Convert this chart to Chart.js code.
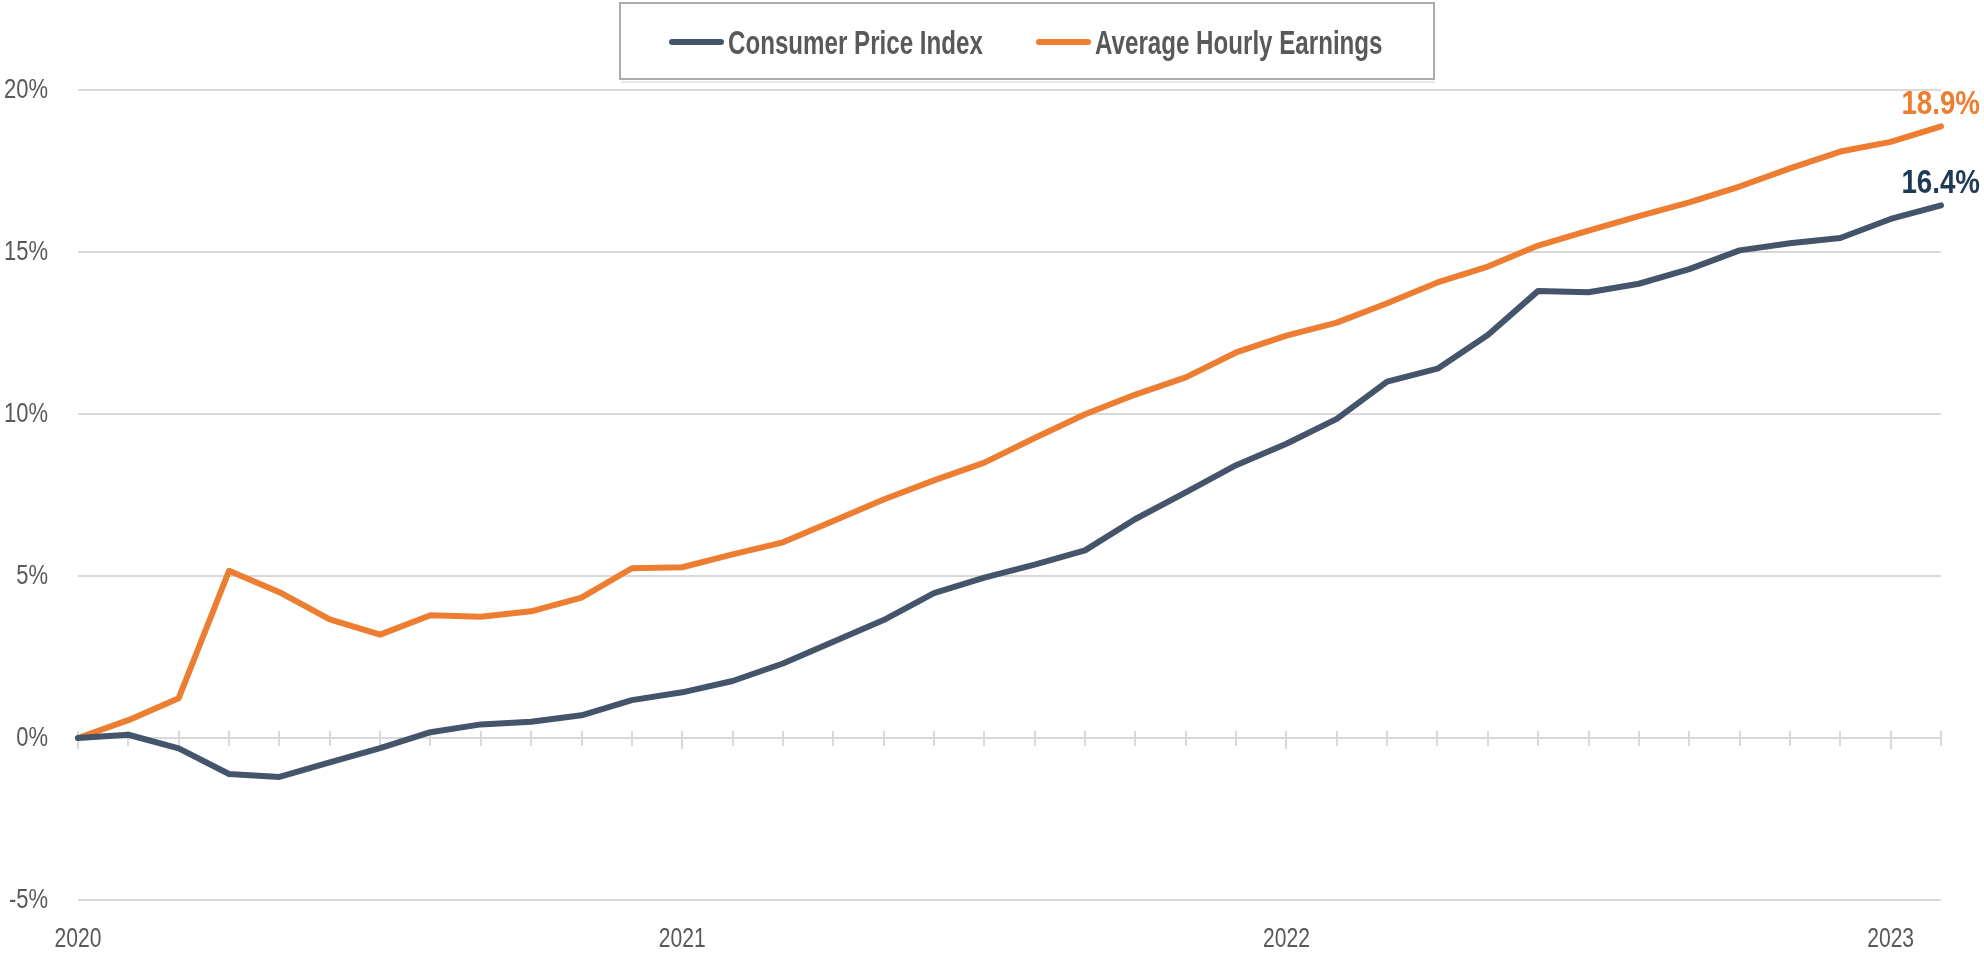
<!DOCTYPE html>
<html>
<head>
<meta charset="utf-8">
<script src="https://cdn.jsdelivr.net/npm/chart.js@4"></script>
<style>
  html, body { margin: 0; padding: 0; background: #fff; }
</style>
</head>
<body>
<canvas id="chart" width="1984" height="954"></canvas>
<script>
const months = [
  'Jan 2020', 'Feb 2020', 'Mar 2020', 'Apr 2020', 'May 2020', 'Jun 2020',
  'Jul 2020', 'Aug 2020', 'Sep 2020', 'Oct 2020', 'Nov 2020', 'Dec 2020',
  'Jan 2021', 'Feb 2021', 'Mar 2021', 'Apr 2021', 'May 2021', 'Jun 2021',
  'Jul 2021', 'Aug 2021', 'Sep 2021', 'Oct 2021', 'Nov 2021', 'Dec 2021',
  'Jan 2022', 'Feb 2022', 'Mar 2022', 'Apr 2022', 'May 2022', 'Jun 2022',
  'Jul 2022', 'Aug 2022', 'Sep 2022', 'Oct 2022', 'Nov 2022', 'Dec 2022',
  'Jan 2023', 'Feb 2023'
];

const cpi = [0, 0.1, -0.32, -1.11, -1.2, -0.75, -0.31, 0.18, 0.42, 0.5, 0.7, 1.17,
  1.41, 1.76, 2.3, 2.97, 3.64, 4.47, 4.95, 5.35, 5.79, 6.76, 7.58, 8.42,
  9.08, 9.85, 11.0, 11.4, 12.44, 13.8, 13.76, 14.02, 14.47, 15.05, 15.27, 15.43,
  16.02, 16.44];

const earnings = [0, 0.55, 1.23, 5.16, 4.5, 3.66, 3.19, 3.79, 3.74, 3.91, 4.33, 5.24,
  5.27, 5.67, 6.04, 6.7, 7.36, 7.95, 8.5, 9.26, 9.99, 10.6, 11.13, 11.9,
  12.42, 12.82, 13.42, 14.06, 14.55, 15.2, 15.66, 16.11, 16.53, 17.02, 17.58, 18.1,
  18.4, 18.88];

const seriesNames = ['Consumer Price Index', 'Average Hourly Earnings'];
const endLabels = ['16.4%', '18.9%'];
const yTicks = [-5, 0, 5, 10, 15, 20];

const lineColors = ['#44546a', '#ed7d31'];
const labelColors = ['#1f3a55', '#ed7d31'];
const gridColor = '#d9d9d9';
const textColor = '#595959';
const fontFamily = '"Liberation Sans", Arial, sans-serif';

// no condensed face is installed, so squeeze a regular one sideways
function squeezedText(ctx, text, x, y, align, sx) {
  ctx.save();
  ctx.translate(x, y);
  ctx.scale(sx, 1);
  ctx.textAlign = align;
  ctx.fillText(text, 0, 0);
  ctx.restore();
}

// little month ticks crossing the zero line, longer at January
const zeroTicks = {
  id: 'zeroTicks',
  beforeDatasetsDraw(chart) {
    const { ctx, scales: { x, y } } = chart;
    const y0 = y.getPixelForValue(0);
    ctx.save();
    ctx.strokeStyle = gridColor;
    ctx.lineWidth = 2;
    months.forEach((m, i) => {
      const px = Math.round(x.getPixelForValue(i));
      const down = i % 12 === 0 ? 11 : 8;
      ctx.beginPath();
      ctx.moveTo(px, y0 - 7);
      ctx.lineTo(px, y0 + down);
      ctx.stroke();
    });
    ctx.restore();
  }
};

const axisText = {
  id: 'axisText',
  afterDraw(chart) {
    const { ctx, chartArea, scales: { x, y } } = chart;
    ctx.save();
    ctx.fillStyle = textColor;

    ctx.font = '28px ' + fontFamily;
    ctx.textBaseline = 'middle';
    y.ticks.forEach(t => {
      squeezedText(ctx, t.value + '%', chartArea.left - 30, y.getPixelForValue(t.value), 'right', 0.785);
    });

    ctx.font = '27px ' + fontFamily;
    ctx.textBaseline = 'alphabetic';
    months.forEach((m, i) => {
      if (i % 12 !== 0) return;
      squeezedText(ctx, m.slice(4), x.getPixelForValue(i), 947, 'center', 0.78);
    });

    // legend box
    ctx.strokeStyle = '#e8e8e8';
    ctx.lineWidth = 2;
    ctx.beginPath();
    ctx.moveTo(621, 82);
    ctx.lineTo(1435, 82);
    ctx.stroke();
    ctx.strokeStyle = '#ababab';
    ctx.strokeRect(620, 3, 814, 76);

    const items = [{ x: 669, w: 55 }, { x: 1036, w: 55 }];
    ctx.font = 'bold 34px ' + fontFamily;
    ctx.lineWidth = 6;
    ctx.lineCap = 'round';
    items.forEach((it, i) => {
      ctx.strokeStyle = lineColors[i];
      ctx.beginPath();
      ctx.moveTo(it.x + 3, 42);
      ctx.lineTo(it.x + it.w - 3, 42);
      ctx.stroke();
      squeezedText(ctx, seriesNames[i], it.x + it.w + 4, 54, 'left', 0.71);
    });
    ctx.restore();
  }
};

const lastValues = {
  id: 'lastValues',
  afterDatasetsDraw(chart) {
    const { ctx, chartArea } = chart;
    ctx.save();
    ctx.font = 'bold 33px ' + fontFamily;
    ctx.textBaseline = 'alphabetic';
    chart.data.datasets.forEach((ds, i) => {
      const meta = chart.getDatasetMeta(i);
      const pt = meta.data[meta.data.length - 1];
      ctx.fillStyle = labelColors[i];
      squeezedText(ctx, endLabels[i], chartArea.right + 39, pt.y - 12, 'right', 0.84);
    });
    ctx.restore();
  }
};

new Chart(document.getElementById('chart'), {
  type: 'line',
  data: {
    labels: months,
    datasets: [
      { label: seriesNames[0], data: cpi, borderColor: lineColors[0], backgroundColor: lineColors[0] },
      { label: seriesNames[1], data: earnings, borderColor: lineColors[1], backgroundColor: lineColors[1] }
    ]
  },
  options: {
    responsive: false,
    animation: false,
    layout: { padding: { top: 90, right: 43, left: 0, bottom: 0 } },
    elements: {
      line: { borderWidth: 6, tension: 0, borderCapStyle: 'round', borderJoinStyle: 'round' },
      point: { radius: 0, hoverRadius: 0 }
    },
    plugins: {
      legend: { display: false },
      tooltip: { enabled: false }
    },
    scales: {
      x: {
        offset: false,
        grid: { display: false },
        border: { display: false },
        ticks: { display: false },
        afterFit: (scale) => { scale.height = 54; }
      },
      y: {
        min: -5,
        max: 20,
        afterBuildTicks: (scale) => { scale.ticks = yTicks.map(v => ({ value: v })); },
        grid: { color: gridColor, lineWidth: 2, drawTicks: false },
        border: { display: false },
        ticks: { display: false },
        afterFit: (scale) => { scale.width = 78; }
      }
    }
  },
  plugins: [zeroTicks, lastValues, axisText]
});
</script>
</body>
</html>
